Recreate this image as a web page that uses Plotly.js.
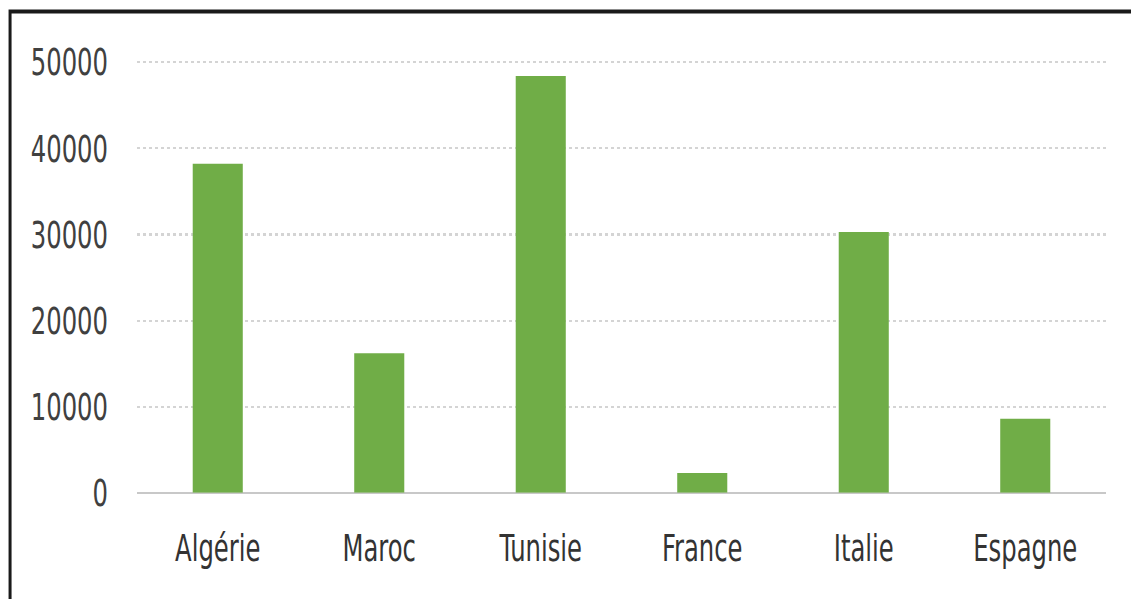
<!DOCTYPE html>
<html>
<head>
<meta charset="utf-8">
<script src="https://cdn.plot.ly/plotly-3.0.1.min.js"></script>
<style>
  html, body { margin: 0; padding: 0; background: #ffffff; }
  #frame { width: 1131px; height: 599px; position: relative; overflow: hidden; }
  /* the figure is laid out short and stretched vertically to give tall, narrow lettering */
  #chart { position: absolute; left: 0; top: 0; width: 1131px; height: 428px; transform: scaleY(1.4); transform-origin: 0 0; }
</style>
</head>
<body>
<div id="frame"><div id="chart"></div></div>
<script>
// Countries and their values
const countries = ["Algérie", "Maroc", "Tunisie", "France", "Italie", "Espagne"];
const values = [38200, 16200, 48400, 2300, 30300, 8600];
const yTicks = [0, 10000, 20000, 30000, 40000, 50000];

const font = "'DejaVu Sans Condensed', 'Liberation Sans Narrow', sans-serif";

const trace = {
  type: "bar",
  x: countries,
  y: values,
  marker: { color: "#70AD47" },
  hoverinfo: "x+y"
};

const layout = {
  width: 1131,
  height: 428,
  margin: { l: 137, r: 25, t: 42, b: 76 },
  paper_bgcolor: "#ffffff",
  plot_bgcolor: "#ffffff",
  bargap: 0.69,
  showlegend: false,
  font: { family: font, size: 27, color: "#404040" },
  xaxis: {
    type: "category",
    showgrid: false,
    showline: false,
    zeroline: false,
    ticks: "",
    ticklabelstandoff: 21,
    tickfont: { family: font, size: 27, color: "#333333" }
  },
  yaxis: {
    range: [0, 50400],
    tickvals: yTicks,
    ticktext: yTicks.map(String),
    showgrid: true,
    gridcolor: "#d4d4d4",
    griddash: "dot",
    gridwidth: 1.5,
    zeroline: true,
    zerolinecolor: "#c8c8c8",
    zerolinewidth: 1.5,
    showline: false,
    ticks: "",
    ticklabelstandoff: 28,
    tickfont: { family: font, size: 27, color: "#404040" }
  },
  shapes: [{
    type: "rect",
    xref: "paper", yref: "paper",
    x0: -0.131, x1: 2,
    y0: -1, y1: 1.109,
    line: { color: "#1a1a1a", width: 3 },
    fillcolor: "rgba(0,0,0,0)",
    layer: "above"
  }]
};

Plotly.newPlot("chart", [trace], layout, { displayModeBar: false, staticPlot: true });
</script>
</body>
</html>
